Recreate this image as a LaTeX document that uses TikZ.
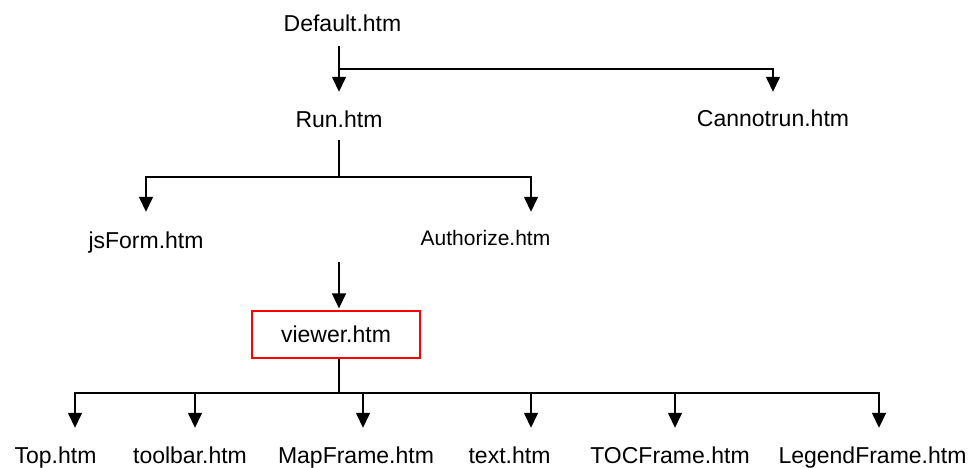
\documentclass[tikz,border=0pt]{standalone}
\usepackage{fontspec}
\setmainfont{Liberation Sans}
\usetikzlibrary{arrows.meta}
\tikzset{
  page/.style={inner sep=0pt, anchor=base, text height=16.5pt, text depth=4.8pt,
    font=\fontsize{23}{27}\selectfont},
  smallpage/.style={page, text height=15pt, text depth=4.4pt,
    font=\fontsize{21}{25}\selectfont},
  frame/.style={draw=red, line width=1.3pt, inner sep=0pt, minimum width=168pt,
    minimum height=47pt, text height=16.5pt, text depth=0pt,
    font=\fontsize{23}{27}\selectfont},
  link/.style={line width=1.5pt},
  tip/.style={link, -{Triangle[width=14pt,length=15pt]}}
}
\begin{document}
\begin{tikzpicture}[x=1pt,y=-1pt]
      \useasboundingbox (0,0) rectangle (978,468);
      \draw
        (342.5,32) node[page] (default){Default.htm}
        (339,128) node[page] (run){Run.htm}
        (773,127) node[page] (cannotrun){Cannotrun.htm}
        (146,248) node[page] (jsform){jsForm.htm}
        (485.5,245) node[smallpage] (authorize){Authorize.htm}
        (336,334.5) node[frame] (viewer){viewer.htm}
        (55.5,463) node[page] (top){Top.htm}
        (190,463) node[page] (toolbar){toolbar.htm}
        (356,463) node[page] (mapframe){MapFrame.htm}
        (509.5,463) node[page] (text){text.htm}
        (670,463) node[page] (tocframe){TOCFrame.htm}
        (872.5,463) node[page] (legendframe){LegendFrame.htm};
      \coordinate (fork1) at (339,69);
      \coordinate (fork2) at (339,177);
      \coordinate (gate) at (339,262);
      \coordinate (fork3) at (339,393);
      \begin{scope}[link]
        \draw[tip, shorten <=9.2pt, shorten >=19.5pt] (default.south -| run) to (run.north);
        \draw[tip, shorten >=18.5pt] (fork1) -| (cannotrun.north);
        \draw[shorten <=7.2pt] (run.south) to (fork2);
        \draw[tip, shorten >=19.5pt] (fork2) -| (jsform.north);
        \draw[tip, shorten >=18pt] (fork2) -| ([xshift=45.5pt]authorize.north);
        \draw[tip, shorten >=2pt] (gate) to (gate |- viewer.north);
        \draw (viewer.south -| gate) to (fork3);
        \draw[tip, shorten >=18.5pt] (fork3) -| ([xshift=19.5pt]top.north);
        \draw[tip, shorten >=18.5pt] (fork3) -| ([xshift=5pt]toolbar.north);
        \draw[tip, shorten >=18.5pt] (fork3) -| ([xshift=7pt]mapframe.north);
        \draw[tip, shorten >=18.5pt] (fork3) -| ([xshift=21.5pt]text.north);
        \draw[tip, shorten >=18.5pt] (fork3) -| ([xshift=5pt]tocframe.north);
        \draw[tip, shorten >=18.5pt] (fork3) -| ([xshift=6.5pt]legendframe.north);
      \end{scope}
    \end{tikzpicture}
\end{document}
